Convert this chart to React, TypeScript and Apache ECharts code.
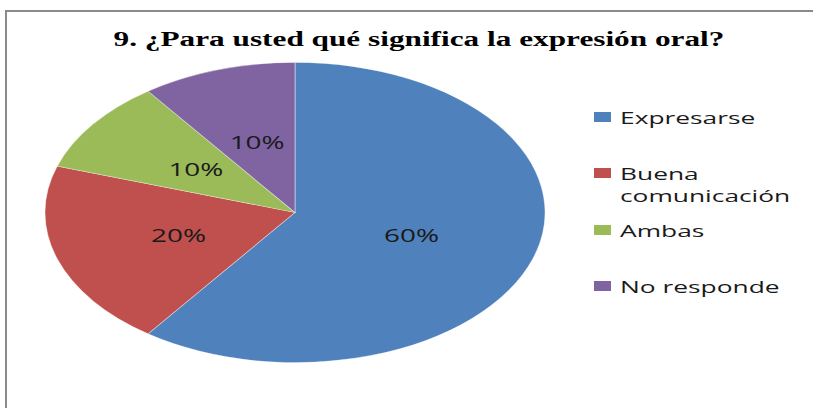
import React, { useEffect, useRef } from "react";
import * as echarts from "echarts";

const TITLE = "9. ¿Para usted qué significa la expresión oral?";
const categories = ["Expresarse", "Buena\ncomunicación", "Ambas", "No responde"];
const values = [60, 20, 10, 10];
const colors = ["#4F81BD", "#C0504D", "#9BBB59", "#8064A2"];
const legendCenters = [117, 173, 230, 286];

const CX = 295;
const CY = 212.5;
const R = 150;
const SX = 250 / 150;
const TEXT_SX = 1.55;
const SANS = "'Open Sans', 'Liberation Sans', sans-serif";

export default function App() {
  const ref = useRef<HTMLDivElement>(null);
  useEffect(() => {
    document.body.style.margin = "0";
    const chart = echarts.init(ref.current!, null, { renderer: "svg" });
    const total = values.reduce((a, b) => a + b, 0);
    const legendGraphics: any[] = [];
    categories.forEach((c, i) => {
      const cy = legendCenters[i];
      legendGraphics.push({
        type: "rect",
        shape: { x: 594, y: cy - 5, width: 17, height: 10 },
        style: { fill: colors[i] },
      });
      legendGraphics.push({
        type: "text",
        x: 620,
        y: cy - 11,
        scaleX: 1.55,
        style: {
          text: c,
          font: `17px ${SANS}`,
          lineHeight: 22,
          fill: "#1a1a1a",
          align: "left",
          verticalAlign: "top",
        },
      });
    });
    chart.setOption({
      animation: false,
      backgroundColor: "#ffffff",
      graphic: [
        {
          type: "rect",
          shape: { x: 6, y: 11, width: 900, height: 500 },
          style: { fill: "none", stroke: "#8a8a8a", lineWidth: 2 },
        },
        {
          type: "text",
          x: 419,
          y: 39,
          scaleX: 1.49,
          style: {
            text: TITLE,
            font: "bold 21px 'Liberation Serif', 'Times New Roman', serif",
            fill: "#000",
            align: "center",
            verticalAlign: "middle",
          },
        },
        ...legendGraphics,
      ],
      series: [
        {
          type: "custom",
          coordinateSystem: "none",
          data: values.map((v, i) => ({ name: categories[i], value: v })),
          renderItem: (params: any, api: any) => {
            const i = params.dataIndex;
            let before = 0;
            for (let j = 0; j < i; j++) before += values[j];
            const v = api.value(0);
            const a0 = -Math.PI / 2 + (before / total) * Math.PI * 2;
            const a1 = a0 + (v / total) * Math.PI * 2;
            const mid = (a0 + a1) / 2;
            const lr = R * 0.49;
            return {
              type: "group",
              children: [
                {
                  type: "sector",
                  x: CX,
                  y: CY,
                  scaleX: SX,
                  shape: { cx: 0, cy: 0, r0: 0, r: R, startAngle: a0, endAngle: a1, clockwise: true },
                  style: { fill: colors[i], stroke: "rgba(255,255,255,0.45)", lineWidth: 0.6 },
                },
                {
                  type: "text",
                  x: CX + Math.cos(mid) * lr * SX,
                  y: CY + Math.sin(mid) * lr,
                  scaleX: TEXT_SX,
                  style: {
                    text: Math.round((v / total) * 100) + "%",
                    font: `18px ${SANS}`,
                    fill: "#1a1a1a",
                    align: "center",
                    verticalAlign: "middle",
                  },
                },
              ],
            };
          },
        },
      ],
    });
    return () => chart.dispose();
  }, []);
  return <div ref={ref} style={{ width: 813, height: 408 }} />;
}
